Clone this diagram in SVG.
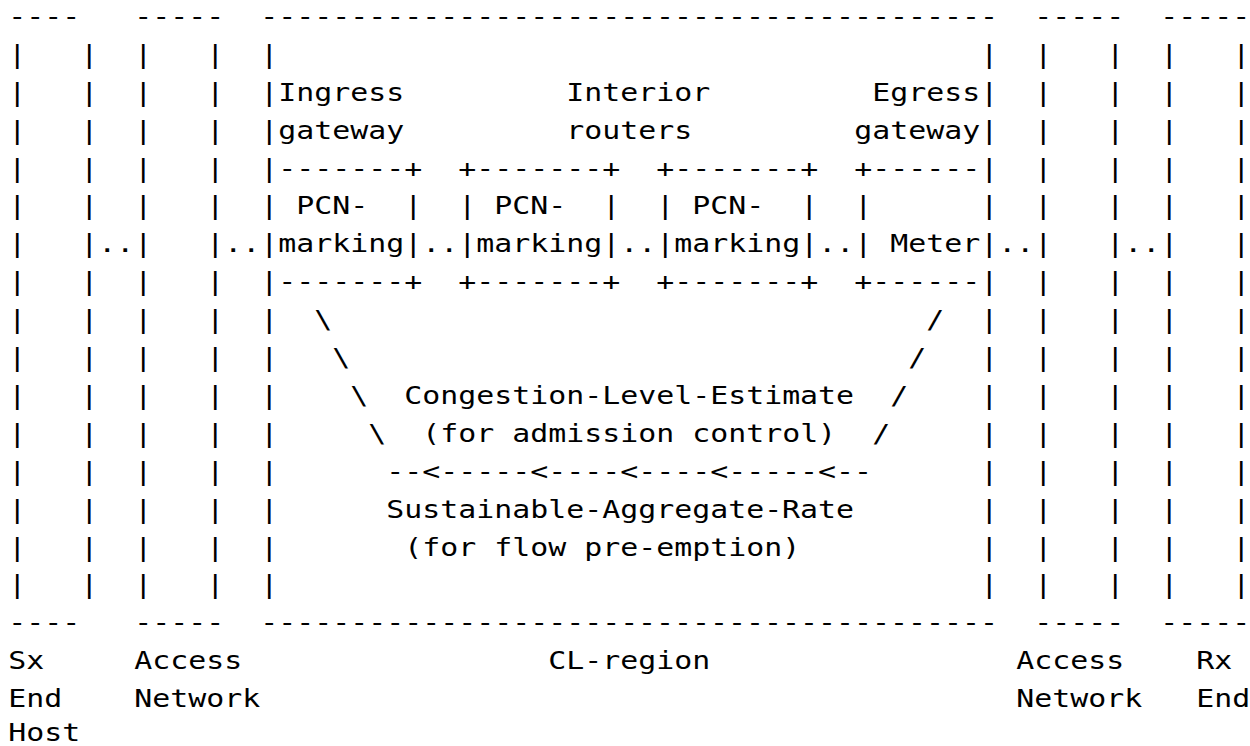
<svg xmlns="http://www.w3.org/2000/svg" xmlns:xlink="http://www.w3.org/1999/xlink" width="1250" height="746" viewBox="0 0 1250 746" xml:space="preserve">
  <style>
    .t { font-family: "DejaVu Sans Mono", "Liberation Mono", monospace; font-size: 29.9px; fill: #000; white-space: pre; }
  </style>
  <defs>
    <!-- one column of box sides, rows 1..15 of the character grid (18px columns) -->
    <text id="bar-col" class="t" x="0 0 0 0 0 0 0 0 0 0 0 0 0 0 0" y="74 118.59 163.18 207.76 252.35 296.94 341.53 386.12 430.71 475.29 519.88 564.47 609.06 653.65 698.24">|||||||||||||||</text>
  </defs>
  <rect width="1250" height="746" fill="#fff"/>

  <!-- glyphs are drawn slightly condensed vertically: y values are in the scaled space -->
  <g transform="translate(-0.7 0) scale(1 0.85)">
  <!-- sender end host -->
  <g id="sx-end-host">
    <text class="t" x="9" y="29.41">----</text>
    <use xlink:href="#bar-col" x="9"/>
    <use xlink:href="#bar-col" x="81"/>
    <text class="t" x="9" y="742.82">----</text>
    <text class="t" x="9" y="787.41">Sx</text>
    <text class="t" x="9" y="832">End</text>
    <text class="t" x="9" y="871.76">Host</text>
  </g>

  <!-- access network on the sending side -->
  <g id="access-network-src">
    <text class="t" x="135" y="29.41">-----</text>
    <use xlink:href="#bar-col" x="135"/>
    <use xlink:href="#bar-col" x="207"/>
    <text class="t" x="135" y="742.82">-----</text>
    <text class="t" x="135" y="787.41">Access</text>
    <text class="t" x="135" y="832">Network</text>
  </g>

  <!-- CL-region boundary -->
  <g id="cl-region">
    <text class="t" x="261" y="29.41">-----------------------------------------</text>
    <use xlink:href="#bar-col" x="261"/>
    <use xlink:href="#bar-col" x="981"/>
    <text class="t" x="261" y="742.82">-----------------------------------------</text>
    <text class="t" x="549" y="787.41">CL-region</text>
  </g>

  <g id="ingress-gateway">
    <text class="t" x="279" y="118.59">Ingress</text>
    <text class="t" x="279" y="163.18">gateway</text>
    <text class="t" x="279" y="207.76">-------+</text>
    <text class="t" x="297" y="252.35">PCN-</text>
    <text class="t" x="405" y="252.35">|</text>
    <text class="t" x="279" y="296.94">marking|</text>
    <text class="t" x="279" y="341.53">-------+</text>
  </g>

  <g id="interior-routers-label">
    <text class="t" x="567" y="118.59">Interior</text>
    <text class="t" x="567" y="163.18">routers</text>
  </g>

  <g id="interior-router-1">
    <text class="t" x="459" y="207.76">+-------+</text>
    <text class="t" x="459" y="252.35">|</text>
    <text class="t" x="495" y="252.35">PCN-</text>
    <text class="t" x="603" y="252.35">|</text>
    <text class="t" x="459" y="296.94">|marking|</text>
    <text class="t" x="459" y="341.53">+-------+</text>
  </g>

  <g id="interior-router-2">
    <text class="t" x="657" y="207.76">+-------+</text>
    <text class="t" x="657" y="252.35">|</text>
    <text class="t" x="693" y="252.35">PCN-</text>
    <text class="t" x="801" y="252.35">|</text>
    <text class="t" x="657" y="296.94">|marking|</text>
    <text class="t" x="657" y="341.53">+-------+</text>
  </g>

  <g id="egress-gateway">
    <text class="t" x="873" y="118.59">Egress</text>
    <text class="t" x="855" y="163.18">gateway</text>
    <text class="t" x="855" y="207.76">+------</text>
    <text class="t" x="855" y="252.35">|</text>
    <text class="t" x="855" y="296.94">| Meter</text>
    <text class="t" x="855" y="341.53">+------</text>
  </g>

  <!-- access network on the receiving side -->
  <g id="access-network-dst">
    <text class="t" x="1035" y="29.41">-----</text>
    <use xlink:href="#bar-col" x="1035"/>
    <use xlink:href="#bar-col" x="1107"/>
    <text class="t" x="1035" y="742.82">-----</text>
    <text class="t" x="1017" y="787.41">Access</text>
    <text class="t" x="1017" y="832">Network</text>
  </g>

  <!-- receiver end host -->
  <g id="rx-end-host">
    <text class="t" x="1161" y="29.41">-----</text>
    <use xlink:href="#bar-col" x="1161"/>
    <use xlink:href="#bar-col" x="1233"/>
    <text class="t" x="1161" y="742.82">-----</text>
    <text class="t" x="1197" y="787.41">Rx</text>
    <text class="t" x="1197" y="832">End</text>
  </g>

  <!-- data path links and the egress-to-ingress feedback path -->
  <g id="connectors">
    <text class="t" x="99" y="296.94">..</text>
    <text class="t" x="225" y="296.94">..</text>
    <text class="t" x="423" y="296.94">..</text>
    <text class="t" x="621" y="296.94">..</text>
    <text class="t" x="819" y="296.94">..</text>
    <text class="t" x="999" y="296.94">..</text>
    <text class="t" x="1125" y="296.94">..</text>
    <text class="t" x="315 333 351 369" y="386.12 430.71 475.29 519.88">\\\\</text>
    <text class="t" x="927 909 891 873" y="386.12 430.71 475.29 519.88">////</text>
    <text class="t" x="387" y="564.47">--&lt;-----&lt;----&lt;----&lt;-----&lt;--</text>
  </g>

  <g id="feedback-labels">
    <text class="t" x="405" y="475.29">Congestion-Level-Estimate</text>
    <text class="t" x="423" y="519.88">(for admission control)</text>
    <text class="t" x="387" y="609.06">Sustainable-Aggregate-Rate</text>
    <text class="t" x="405" y="653.65">(for flow pre-emption)</text>
  </g>
  </g>
</svg>
